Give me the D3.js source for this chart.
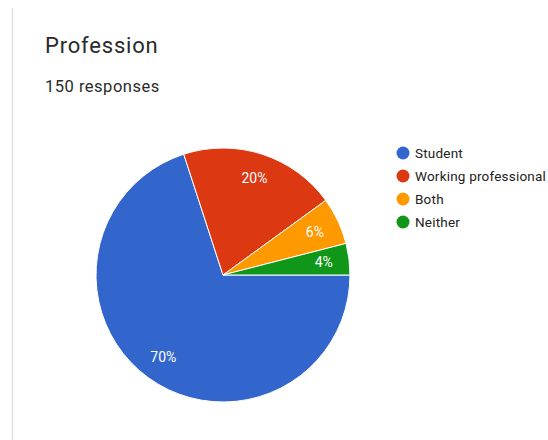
<!DOCTYPE html>
<html>
<head>
<meta charset="utf-8">
<script src="https://cdn.jsdelivr.net/npm/d3@7"></script>
<style>
  html, body { margin: 0; padding: 0; background: #ffffff; }
  svg { display: block; }
</style>
</head>
<body>
<script>
// Survey answers for the "Profession" question
const categories = ["Student", "Working professional", "Both", "Neither"];
const percents = [70, 20, 6, 4];
const colors = ["#3366cc", "#dc3912", "#ff9900", "#109618"];
const title = "Profession";
const subtitle = "150 responses";

const W = 548, H = 440;
const svg = d3.select("body").append("svg")
  .attr("width", W).attr("height", H);

svg.append("rect").attr("width", W).attr("height", H).attr("fill", "#ffffff");

// card edge on the left
svg.append("line")
  .attr("x1", 12.5).attr("x2", 12.5).attr("y1", 8).attr("y2", H)
  .attr("stroke", "#e2e2e2").attr("stroke-width", 1.5);

svg.append("text")
  .attr("x", 45).attr("y", 53)
  .attr("font-family", "Roboto, sans-serif")
  .attr("font-size", 22)
  .attr("letter-spacing", 0.8)
  .attr("fill", "#2a2a2a")
  .text(title);

svg.append("text")
  .attr("x", 45).attr("y", 92)
  .attr("font-family", "Roboto, sans-serif")
  .attr("font-size", 16.5)
  .attr("letter-spacing", 0.5)
  .attr("fill", "#2a2a2a")
  .text(subtitle);

// pie: first slice starts at 3 o'clock, running clockwise
const cx = 223, cy = 275, R = 127;
const pie = d3.pie().sort(null).value(d => d.v)
  .startAngle(Math.PI / 2).endAngle(Math.PI / 2 + 2 * Math.PI);
const data = categories.map((c, i) => ({ c, v: percents[i], color: colors[i] }));
const arcs = pie(data);
const arc = d3.arc().innerRadius(0).outerRadius(R);
const labelArc = d3.arc().innerRadius(R * 0.8).outerRadius(R * 0.8);

const g = svg.append("g").attr("transform", `translate(${cx},${cy})`);
g.selectAll("path").data(arcs).join("path")
  .attr("d", arc)
  .attr("fill", d => d.data.color)
  .attr("stroke", "#ffffff")
  .attr("stroke-width", 1);

g.selectAll("text").data(arcs).join("text")
  .attr("transform", d => `translate(${labelArc.centroid(d)})`)
  .attr("text-anchor", "middle")
  .attr("dy", "0.35em")
  .attr("font-family", "Roboto, sans-serif")
  .attr("font-size", 14)
  .attr("fill", "#ffffff")
  .text(d => d3.format(".0f")(d.data.v) + "%");

// legend
const lg = svg.append("g").attr("transform", "translate(403,153)");
const items = lg.selectAll("g").data(data).join("g")
  .attr("transform", (d, i) => `translate(0,${i * 23})`);
items.append("circle").attr("r", 6.5).attr("fill", d => d.color);
items.append("text")
  .attr("x", 12).attr("dy", "0.35em")
  .attr("font-family", "Roboto, sans-serif")
  .attr("font-size", 13.5)
  .attr("letter-spacing", 0.2)
  .attr("fill", "#222222")
  .text(d => d.c);
</script>
</body>
</html>
